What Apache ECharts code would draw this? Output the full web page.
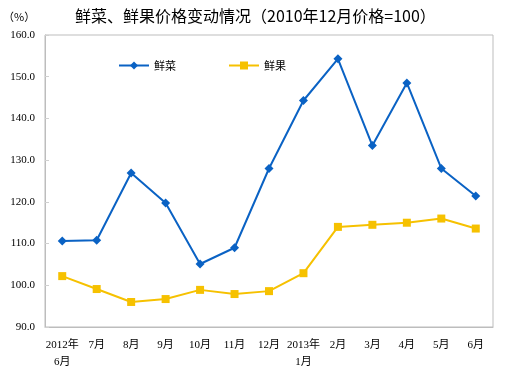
<!DOCTYPE html>
<html><head><meta charset="utf-8">
<script src="https://cdn.jsdelivr.net/npm/echarts@6/dist/echarts.min.js"></script>
<style>html,body{margin:0;padding:0;background:#fff}#c{width:508px;height:371px}</style>
</head><body><div id="c"></div>
<script>
var categories = ['2012年\n6月','7月','8月','9月','10月','11月','12月','2013年\n1月','2月','3月','4月','5月','6月'];
var vegetables = [110.6, 110.8, 126.9, 119.7, 105.1, 109.0, 128.0, 144.3, 154.3, 133.5, 148.5, 128.0, 121.4];
var fruits = [102.2, 99.1, 96.0, 96.7, 98.9, 97.9, 98.6, 102.9, 114.0, 114.5, 115.0, 116.0, 113.6];
var yMin = 90, yMax = 160, yStep = 10;

var chart = echarts.init(document.getElementById('c'));
var font = '"Liberation Serif","Noto Sans CJK SC",serif';
chart.setOption({
  animation: false,
  backgroundColor: '#fff',
  title: [
    {text: '鲜菜、鲜果价格变动情况（2010年12月价格=100）', left: 70, top: 3,
     textStyle: {fontSize: 16, fontWeight: 'normal', color: '#000', fontFamily: '"Noto Sans CJK SC",sans-serif'}},
    {text: '（%）', left: -2, top: 6,
     textStyle: {fontSize: 11, fontWeight: 'normal', color: '#000', fontFamily: '"Noto Sans CJK SC",sans-serif'}}
  ],
  legend: {
    left: 113, top: 55, itemGap: 52, itemWidth: 30, itemHeight: 10,
    textStyle: {fontSize: 11, color: '#000', fontFamily: '"Noto Sans CJK SC",sans-serif'},
    data: ['鲜菜', '鲜果']
  },
  grid: {left: 45, right: 15, top: 35, bottom: 43, show: true, borderColor: '#bdbdbd', borderWidth: 1},
  xAxis: {
    type: 'category', data: categories, boundaryGap: true,
    axisLine: {show: true, lineStyle: {color: '#bdbdbd'}},
    axisTick: {show: false},
    axisLabel: {interval: 0, fontSize: 11, color: '#000', fontFamily: font, margin: 10, lineHeight: 17}
  },
  yAxis: {
    type: 'value', min: yMin, max: yMax, interval: yStep,
    axisLine: {show: true, lineStyle: {color: '#bdbdbd'}},
    axisTick: {show: true, inside: true, length: 4, lineStyle: {color: '#d0d0d0'}},
    splitLine: {show: false},
    axisLabel: {fontSize: 11, color: '#000', fontFamily: font, margin: 10,
      formatter: function(v){ return v.toFixed(1); }}
  },
  series: [
    {name: '鲜菜', type: 'line', data: vegetables, symbol: 'diamond', symbolSize: 9,
     lineStyle: {color: '#0a62c4', width: 2}, itemStyle: {color: '#0a62c4'}},
    {name: '鲜果', type: 'line', data: fruits, symbol: 'rect', symbolSize: 8,
     lineStyle: {color: '#f6c100', width: 2}, itemStyle: {color: '#f6c100'}}
  ]
});
</script></body></html>
